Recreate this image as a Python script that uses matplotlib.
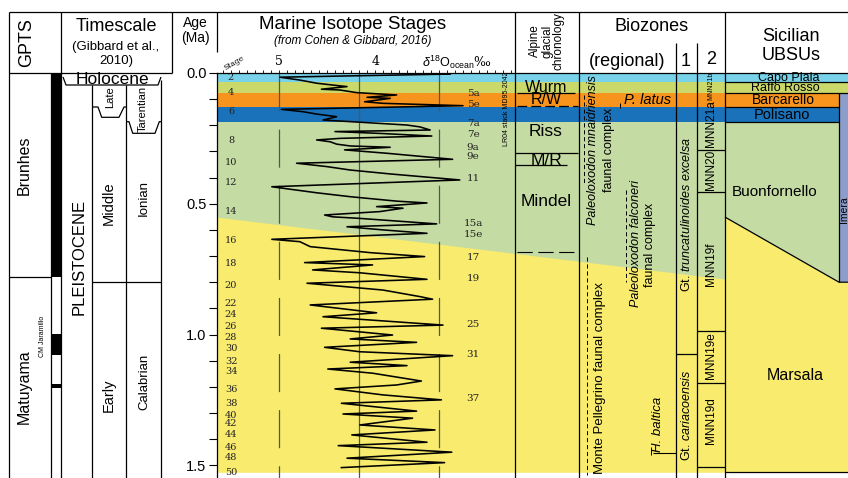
import matplotlib
matplotlib.use('Agg')
import matplotlib.pyplot as plt
from matplotlib.ticker import FixedLocator, MultipleLocator, FuncFormatter

plt.rcParams['font.family'] = ['Liberation Sans', 'DejaVu Sans']
plt.rcParams['mathtext.fontset'] = 'custom'
plt.rcParams['mathtext.rm'] = 'Liberation Sans'
plt.rcParams['mathtext.it'] = 'Liberation Sans:italic'
plt.rcParams['mathtext.bf'] = 'Liberation Sans:bold'
plt.rcParams['lines.scale_dashes'] = False

SERIF = ['DejaVu Serif']

# ---------------- data ----------------
# LR04 benthic d18O stack: age (Ma), d18O (per mil)
d18o_age = [0.000, 0.004, 0.016, 0.027, 0.039, 0.046, 0.052, 0.062, 0.065, 0.075,
            0.084, 0.093, 0.097, 0.110, 0.116, 0.125, 0.139, 0.148, 0.157, 0.167,
            0.180, 0.186, 0.199, 0.206, 0.218, 0.224, 0.231, 0.241, 0.250, 0.256,
            0.263, 0.272, 0.279, 0.284, 0.294, 0.307, 0.330, 0.345, 0.358, 0.371,
            0.386, 0.409, 0.435, 0.458, 0.473, 0.490, 0.497, 0.511, 0.517, 0.530,
            0.543, 0.550, 0.556, 0.577, 0.588, 0.600, 0.613, 0.636, 0.645, 0.664,
            0.687, 0.702, 0.725, 0.734, 0.753, 0.764, 0.789, 0.804, 0.830, 0.855,
            0.865, 0.887, 0.917, 0.932, 0.964, 0.976, 1.002, 1.017, 1.030, 1.049,
            1.066, 1.081, 1.106, 1.119, 1.132, 1.148, 1.178, 1.193, 1.208, 1.231,
            1.250, 1.263, 1.293, 1.304, 1.320, 1.346, 1.365, 1.384, 1.412, 1.425,
            1.450, 1.473, 1.490, 1.509]
d18o_val = [3.05, 2.86, 4.99, 4.74, 4.53, 4.33, 4.15, 4.47, 4.24, 4.03,
            3.53, 3.90, 3.61, 3.93, 3.70, 2.70, 4.97, 4.70, 4.53, 4.28,
            4.45, 4.11, 3.40, 3.24, 3.11, 4.30, 3.74, 3.09, 4.24, 4.53,
            4.36, 4.28, 4.11, 3.61, 4.18, 3.65, 2.83, 4.78, 4.40, 4.11,
            3.61, 2.74, 5.09, 4.53, 4.11, 3.53, 3.15, 3.78, 3.45, 3.74,
            4.43, 4.33, 3.99, 3.03, 4.15, 3.70, 3.15, 5.09, 4.74, 4.61,
            3.86, 3.18, 4.68, 3.83, 4.58, 3.99, 3.15, 4.65, 3.70, 3.24,
            3.08, 4.61, 3.78, 4.45, 2.95, 4.47, 3.58, 4.11, 3.28, 4.43,
            3.99, 2.83, 4.11, 3.40, 4.39, 3.83, 3.22, 3.53, 4.30, 3.70,
            2.97, 4.22, 3.28, 4.20, 3.33, 3.99, 3.05, 4.09, 3.15, 4.26,
            2.84, 4.15, 2.93, 4.22]

# even (glacial) stage labels
stage_even = ['2', '4', '6', '8', '10', '12', '14', '16', '18', '20', '22', '24', '26',
              '28', '30', '32', '34', '36', '38', '40', '42', '44', '46', '48', '50']
stage_even_age = [0.019, 0.073, 0.149, 0.260, 0.344, 0.417, 0.528, 0.642, 0.727, 0.811,
                  0.883, 0.922, 0.971, 1.013, 1.055, 1.105, 1.143, 1.212, 1.262, 1.308,
                  1.342, 1.381, 1.434, 1.472, 1.526]
# interglacial stage labels
stage_odd = ['5a', '5e', '7a', '7e', '9a', '9e', '11', '15a', '15e', '17', '19', '25', '31', '37']
stage_odd_age = [0.080, 0.122, 0.195, 0.237, 0.283, 0.321, 0.405, 0.574, 0.616, 0.704,
                 0.784, 0.960, 1.078, 1.243]

# MIS colour bands (Ma)
band_edges = [0.0, 0.035, 0.078, 0.130, 0.188]
green_base_left, green_base_right = 0.551, 0.788     # diachronous base of green zone
sicily_base_left, sicily_base_right = 0.551, 0.800   # Buonfornello / Marsala boundary
section_base = 1.527

# polarity (normal intervals, Ma)
normal_top = [0.0, 1.00, 1.190]
normal_bot = [0.781, 1.08, 1.205]
brunhes_matuyama = 0.781
middle_early = 0.80

age_major = [0.0, 0.5, 1.0, 1.5]

# Alpine glacial chronology
alpine_names = ['Wurm', 'R/W', 'Riss', 'M/R', 'Mindel']
alpine_age = [0.054, 0.103, 0.222, 0.333, 0.493]

# Sicilian UBSUs
ubsu_names = ['Capo Plaia', 'Raffo Rosso', 'Barcarello', 'Polisano', 'Buonfornello', 'Marsala']
ubsu_age = [0.019, 0.057, 0.103, 0.161, 0.455, 1.155]

# MNN nannofossil zones
mnn_names = ['MNN21b', 'MNN21a', 'MNN20', 'MNN19f', 'MNN19e', 'MNN19d']
mnn_age = [0.050, 0.195, 0.371, 0.730, 1.082, 1.331]
mnn_bounds = [0.294, 0.455, 0.987, 1.185, 1.507]

# planktonic foraminifera zones
foram_bound = 1.075

# ---------------- layout helpers ----------------
W, H = 848, 478
TOP = 73
SCALE = 261.5


def py(p):
    return (p - TOP) / SCALE


C_HOLO = '#78d2ea'
C_MIS24 = '#cad96a'
C_MIS5 = '#f7941d'
C_MIS6 = '#1a72ba'
C_GREEN = '#c4dba3'
C_YELLOW = '#f8eb6e'
C_IMERA = '#8b9dca'
band_colors = [C_HOLO, C_MIS24, C_MIS5, C_MIS6]
band_right = [848, 848, 839, 839]

fig = plt.figure(figsize=(W / 100, H / 100), dpi=100)
ax = fig.add_axes([0, 0, 1, 1])
ax.set_xlim(0, W)
ax.set_ylim(py(H), py(0))
ax.axis('off')

LW = 0.9


def L(xs, ys, lw=LW, **kw):
    ax.plot(xs, ys, color='k', lw=lw, clip_on=False, solid_capstyle='butt', **kw)


def Lp(xs, ys_px, lw=LW, **kw):
    L(xs, [py(v) for v in ys_px], lw=lw, **kw)


def T(x, y, s, fs, rot=0, **kw):
    ax.text(x, y, s, fontsize=fs, rotation=rot, ha='center', va='center', zorder=2, **kw)


# ---------------- colour bands ----------------
ax.fill_between([217, 839], band_edges[-1], sicily_base_right, color=C_GREEN, lw=0, zorder=0)
for i, c in enumerate(band_colors):
    ax.fill_between([217, band_right[i]], band_edges[i], band_edges[i + 1], color=c, lw=0, zorder=0)
ax.fill_between([217, 725], [green_base_left, green_base_right], section_base,
                color=C_YELLOW, lw=0, zorder=0)
ax.fill_between([725, 839, 848], [sicily_base_left, sicily_base_right, sicily_base_right],
                section_base, color=C_YELLOW, lw=0, zorder=0)
ax.fill_between([839, 848], band_edges[2], sicily_base_right, color=C_IMERA, lw=0, zorder=0)

# ---------------- frame ----------------
Lp([9, 848], [12, 12])
Lp([9, 9], [12, H])
Lp([9, 172], [73, 73])
Lp([172, 172], [12, 73])
Lp([61, 61], [12, H])
Lp([51, 51], [73, H])
Lp([92, 92], [85, H])
Lp([126, 126], [85, H])
Lp([161, 161], [80, H])
Lp([217, 217], [12, 52])
Lp([515, 515], [12, H])
Lp([579, 579], [12, H])
Lp([676, 676], [43, H])
Lp([697, 697], [43, H])
Lp([725, 725], [12, H])
L([515, 848], [0, 0])

# ---------------- GPTS ----------------
ax.bar(56, [b - t for t, b in zip(normal_top, normal_bot)], bottom=normal_top, width=10,
       color='k', lw=0, zorder=2)
L([9, 51], [brunhes_matuyama, brunhes_matuyama])
T(24, py(165), 'Brunhes', 11.5, 90)
T(24, py(387), 'Matuyama', 11.5, 90)
T(43, py(336), 'CM Jaramillo', 5, 90)

# ---------------- Timescale ----------------
Lp([63, 66, 158, 161], [77, 85, 85, 77])
Lp([92, 98, 101.7, 119, 124, 126], [107, 107, 117.3, 117.3, 107, 107])
Lp([126, 129, 132.7, 155, 159.3, 161], [121.7, 121.7, 133.3, 133.3, 121.7, 121.7])
L([92, 161], [middle_early, middle_early])
T(112, py(79.5), 'Holocene', 12.5)
T(110, py(97), 'Late', 8, 90)
T(143, py(109), 'Tarentian', 8, 90)
T(79, py(257), 'PLEISTOCENE', 12, 90)
T(109, py(203), 'Middle', 10.5, 90)
T(144, py(198), 'Ionian', 9.5, 90)
T(109, py(395), 'Early', 10.5, 90)
T(144, py(382), 'Calabrian', 9.5, 90)

# ---------------- headers ----------------
T(27, py(43), 'GPTS', 13, 90)
T(116, py(27), 'Timescale', 13)
T(116, py(47), '(Gibbard et al.,', 9.5)
T(116, py(61), '2010)', 9.5)
T(195, py(23), 'Age', 10)
T(195, py(38), '(Ma)', 10)
T(353, py(25), 'Marine Isotope Stages', 13.5)
T(353, py(41), '(from Cohen & Gibbard, 2016)', 8.5, style='italic')
T(547, py(41), 'Alpine\nglacial\nchronology', 8.5, 90, linespacing=0.95)
T(652, py(27), 'Biozones', 13)
T(627, py(62), '(regional)', 13)
T(686, py(62), '1', 13)
T(711, py(60), '2', 13)
T(791, py(37), 'Sicilian', 13)
T(791, py(56), 'UBSUs', 13)

# ---------------- isotope curve panel ----------------
cax = fig.add_axes([217 / W, 0, (515 - 217) / W, (H - TOP) / H])
cax.set_zorder(3)
cax.patch.set_alpha(0)
cax.set_ylim(py(H), 0)
cax.set_xlim(5 + (279 - 217) / 80, 5 - (515 - 279) / 80)
for s in ['right', 'bottom']:
    cax.spines[s].set_visible(False)
for s in ['left', 'top']:
    cax.spines[s].set_linewidth(LW)
cax.yaxis.set_major_locator(FixedLocator(age_major))
cax.yaxis.set_minor_locator(MultipleLocator(0.1))
cax.yaxis.set_major_formatter(FuncFormatter(lambda v, p: f'{v:.1f}'))
cax.tick_params(axis='y', which='both', direction='out', length=5.5, width=0.8,
                labelsize=10.5, pad=2)
cax.xaxis.set_ticks_position('top')
cax.xaxis.set_major_locator(FixedLocator([5, 4, 3]))
cax.xaxis.set_minor_locator(MultipleLocator(0.1))
cax.tick_params(axis='x', which='both', direction='out', length=2.5, width=0.6,
                labeltop=False, labelbottom=False)
for g, ls in [(5, (0, (27.4, 13))), (4, '-'), (3, (0, (27.4, 13)))]:
    cax.plot([g, g], [0, py(H)], color='#555555', lw=0.9, ls=ls, zorder=1)
cax.plot(d18o_val, d18o_age, color='k', lw=1.15, zorder=3)

T(234, py(63), 'Stage', 5.5, 30, family=SERIF)
T(279, py(62), '5', 9, family=SERIF)
T(376, py(62), '4', 9, family=SERIF)
T(457, py(62), r'$\delta^{18}\mathrm{O}_{\mathrm{ocean}}$‰', 9, family=SERIF)
for s, a in zip(stage_even, stage_even_age):
    T(231, a, s, 7, family=SERIF, color='#222222')
for s, a in zip(stage_odd, stage_odd_age):
    T(473, a, s, 7.5, family=SERIF, color='#222222')
T(506, py(109), 'LR04 stack MD95-2042', 5, 90)

# ---------------- Alpine chronology ----------------
alpine_fs = [11.5, 11.5, 12.5, 12.5, 12.5]
for s, a, f in zip(alpine_names, alpine_age, alpine_fs):
    T(546, a, s, f)
Lp([517, 575], [93, 93])
Lp([517, 578], [106, 106], ls=(0, (7, 3)))
Lp([515, 578], [153, 153])
Lp([515, 567], [165, 165])
Lp([517, 578], [252, 252], lw=0.8, ls=(0, (11, 4)))

# ---------------- regional biozones ----------------
DASH = (0, (3, 2))
Lp([584, 584], [95, 183], lw=0.7, ls=DASH)
Lp([626, 626], [190, 282], lw=0.7, ls=DASH)
Lp([587, 587], [257, 475], lw=0.7, ls=DASH)
T(593, py(150), 'Paleoloxodon mnaidriensis', 9, 90, style='italic')
T(609, py(150), 'faunal complex', 9, 90)
T(648, py(100), 'P. latus', 10.5, style='italic')
Lp([620, 620], [103, 108], lw=0.7)
T(636, py(244), 'Paleoloxodon falconeri', 9, 90, style='italic')
T(650, py(245), 'faunal complex', 9, 90)
T(600, py(378), 'Monte Pellegrino faunal complex', 9.5, 90)
T(658, py(424), 'H. baltica', 9.5, 90, style='italic')
Lp([651, 651], [447, 455], lw=0.7)
Lp([653, 676], [452.7, 452.7], lw=0.8)

# zone column 1 (forams)
T(686, py(214), r'Gt. $\mathit{truncatulinoides\ excelsa}$', 9, 90)
T(686, py(415), r'Gt. $\mathit{cariacoensis}$', 9, 90)
L([676, 697], [foram_bound, foram_bound])

# zone column 2 (MNN)
for s, a in zip(mnn_names, mnn_age):
    T(711, a, s, 5 if s == 'MNN21b' else 8.5, 90)
for b in mnn_bounds:
    L([697, 725], [b, b])

# ---------------- Sicilian UBSUs ----------------
L([725, 848], [band_edges[1], band_edges[1]])
L([725, 848], [band_edges[2], band_edges[2]])
L([725, 839], [band_edges[3], band_edges[3]])
L([725, 839], [band_edges[4], band_edges[4]])
L([839, 839], [band_edges[2], sicily_base_right])
L([725, 839, 848], [sicily_base_left, sicily_base_right, sicily_base_right])
L([725, 848], [section_base, section_base])
ubsu_x = [789, 785, 783, 782, 775, 795]
ubsu_fs = [9, 9, 10, 10.5, 11, 11.5]
for s, a, x, f in zip(ubsu_names, ubsu_age, ubsu_x, ubsu_fs):
    T(x, a, s, f)
T(844, py(210), 'Imera', 7.5, 90)

fig.savefig('out.png', dpi=100)
